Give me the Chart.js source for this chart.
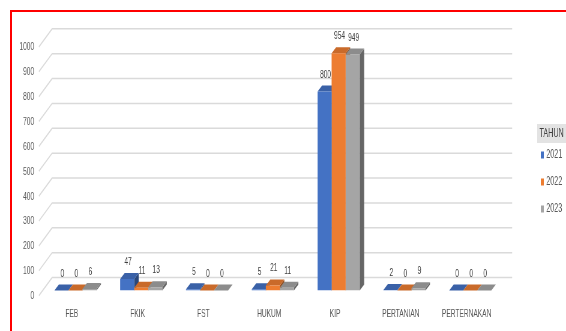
<!DOCTYPE html>
<html>
<head>
<meta charset="utf-8">
<script src="https://cdn.jsdelivr.net/npm/chart.js@4.4.1/dist/chart.umd.min.js"></script>
<style>
  html, body { margin: 0; background: #fff; overflow: hidden; }
  /* chart is drawn wide and squeezed horizontally */
  #wrap { position: absolute; left: 0; top: 0; width: 943px; height: 331px; transform: scaleX(0.6002); transform-origin: 0 0; }
  #frame { position: absolute; left: 10px; top: 10px; width: 600px; height: 400px; border-top: 2px solid #f00; border-left: 2px solid #f00; }
</style>
</head>
<body>
<div id="wrap"><canvas id="chart" width="943" height="331"></canvas></div>
<div id="frame"></div>
<script>
const fakultas = ['FEB', 'FKIK', 'FST', 'HUKUM', 'KIP', 'PERTANIAN', 'PERTERNAKAN'];
const tahun = ['2021', '2022', '2023'];
const data2021 = [0, 47, 5, 5, 800, 2, 0];
const data2022 = [0, 11, 0, 21, 954, 0, 0];
const data2023 = [6, 13, 0, 11, 949, 9, 0];
const yTicks = [0, 100, 200, 300, 400, 500, 600, 700, 800, 900, 1000];
const warna = ['#4472C4', '#ED7D31', '#A5A5A5'];

const DX = 7.5, DY = 6;   // depth of each column
const FONT = '"Liberation Sans", Arial, sans-serif';

function shade(hex, f) {
  const n = parseInt(hex.slice(1), 16);
  const r = Math.round(((n >> 16) & 255) * f);
  const g = Math.round(((n >> 8) & 255) * f);
  const b = Math.round((n & 255) * f);
  return `rgb(${r},${g},${b})`;
}

const kolom3d = {
  id: 'kolom3d',
  beforeDatasetsDraw(chart) {
    const { ctx, chartArea: a, scales: { y } } = chart;
    ctx.save();
    // back wall gridlines + floor diagonals + y labels
    ctx.strokeStyle = '#dadada';
    ctx.lineWidth = 1.5;
    ctx.fillStyle = '#595959';
    ctx.font = '11px ' + FONT;
    ctx.textAlign = 'right';
    ctx.textBaseline = 'middle';
    yTicks.forEach(v => {
      const py = y.getPixelForValue(v);
      ctx.beginPath();
      ctx.moveTo(a.left - 6, py + 5);
      ctx.lineTo(a.left + 16, py - 13);
      ctx.lineTo(a.right + 15, py - 13);
      ctx.stroke();
      ctx.fillText(String(v), a.left - 14, py + 5.5);
    });
    // side and top faces, dataset by dataset
    chart.data.datasets.forEach((ds, i) => {
      chart.getDatasetMeta(i).data.forEach(bar => {
        const { x, y: top, base, width } = bar.getProps(['x', 'y', 'base', 'width'], true);
        const l = x - width / 2, r = x + width / 2;
        ctx.fillStyle = shade(ds.backgroundColor, 0.62);
        ctx.beginPath();
        ctx.moveTo(r, base);
        ctx.lineTo(r + DX, base - DY);
        ctx.lineTo(r + DX, top - DY);
        ctx.lineTo(r, top);
        ctx.closePath();
        ctx.fill();
        ctx.fillStyle = shade(ds.backgroundColor, 0.85);
        ctx.beginPath();
        ctx.moveTo(l, top);
        ctx.lineTo(l + DX, top - DY);
        ctx.lineTo(r + DX, top - DY);
        ctx.lineTo(r, top);
        ctx.closePath();
        ctx.fill();
      });
    });
    ctx.restore();
  },
  afterDatasetsDraw(chart) {
    const { ctx } = chart;
    ctx.save();
    ctx.fillStyle = '#404040';
    ctx.font = '11px ' + FONT;
    ctx.textAlign = 'center';
    ctx.textBaseline = 'middle';
    chart.data.datasets.forEach((ds, i) => {
      chart.getDatasetMeta(i).data.forEach((bar, j) => {
        ctx.fillText(String(ds.data[j]), bar.x + 1.5, bar.y - 17);
      });
    });
    ctx.restore();
  },
  afterDraw(chart) {
    const { ctx } = chart;
    ctx.save();
    // legend: title box and entries
    ctx.fillStyle = '#e3e3e3';
    ctx.fillRect(895, 124, 48, 19);
    ctx.fillStyle = '#404040';
    ctx.font = '12px ' + FONT;
    ctx.textAlign = 'center';
    ctx.textBaseline = 'middle';
    ctx.fillText('TAHUN', 919, 134);
    ctx.textAlign = 'left';
    chart.data.datasets.forEach((ds, i) => {
      const cy = 155 + i * 27;
      ctx.fillStyle = ds.backgroundColor;
      ctx.fillRect(901, cy - 3.5, 5, 7);
      ctx.fillStyle = '#595959';
      ctx.fillText(ds.label, 910, cy);
    });
    ctx.restore();
  }
};

new Chart(document.getElementById('chart'), {
  type: 'bar',
  data: {
    labels: fakultas,
    datasets: [
      { label: tahun[0], data: data2021, backgroundColor: warna[0] },
      { label: tahun[1], data: data2022, backgroundColor: warna[1] },
      { label: tahun[2], data: data2023, backgroundColor: warna[2] }
    ]
  },
  options: {
    responsive: false,
    animation: false,
    events: [],
    categoryPercentage: 0.64,
    barPercentage: 1,
    layout: { padding: { left: 70.8, right: 104.7, top: 41.8, bottom: 9.4 } },
    plugins: { legend: { display: false }, tooltip: { enabled: false } },
    scales: {
      x: {
        grid: { display: false, drawTicks: false },
        border: { display: false },
        ticks: { color: '#595959', font: { family: FONT, size: 11 }, padding: 17, labelOffset: -6, maxRotation: 0, autoSkip: false },
        afterFit: scale => { scale.height = 31; }
      },
      y: { display: false, min: 0, max: 1000 }
    }
  },
  plugins: [kolom3d]
});
</script>
</body>
</html>
